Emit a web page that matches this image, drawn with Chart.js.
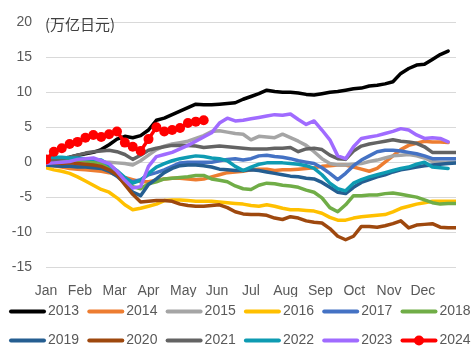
<!DOCTYPE html>
<html><head><meta charset="utf-8">
<script src="https://cdn.jsdelivr.net/npm/chart.js@4/dist/chart.umd.min.js"></script>
<style>html,body{margin:0;padding:0;background:#fff}#wrap{width:474px;height:356px}</style>
</head><body><div id="wrap"><canvas id="c" width="474" height="356"></canvas></div>
<script>
// ---- data (weekly cumulative values, index = week of year) ----
const unitLabel = '(万亿日元)';
const monthLabels = ['Jan','Feb','Mar','Apr','May','Jun','Jul','Aug','Sep','Oct','Nov','Dec'];
const monthTicks = [0, 4.3, 8.7, 13, 17.4, 21.7, 26, 30.4, 34.8, 39.1, 43.5, 47.8];
const yTickValues = [-15, -10, -5, 0, 5, 10, 15, 20];
const seriesNames = ['2013','2014','2015','2016','2017','2018','2019','2020','2021','2022','2023','2024'];

const s2013 = [0,0.2,0.5,0.7,1.0,1.2,1.4,1.8,2.5,3.3, 3.7,3.5,3.8,4.6,6.0,6.3,6.8,7.3,7.8,8.3, 8.2,8.2,8.3,8.4,8.5,9.0,9.4,9.8,10.3,10.1, 10.0,10.0,9.9,9.7,9.6,9.8,10.0,10.1,10.3,10.5, 10.6,10.9,11.0,11.2,11.5,12.7,13.4,13.9,14.0,14.7, 15.4,15.9];
const s2014 = [-0.4,-0.5,-0.7,-0.9,-1.0,-1.1,-1.2,-1.3,-1.5,-1.8, -2.2,-2.5,-2.8,-2.8,-2.6,-2.4,-2.3,-2.3,-2.4,-2.5, -2.4,-2.1,-1.8,-1.5,-1.4,-1.3,-1.1,-1.0,-1.0,-1.2, -1.1,-1.1,-1.0,-0.9,-0.8,-0.6,-0.5,-0.4,-0.4,-0.7, -1.0,-1.3,-0.9,0.0,0.9,1.8,2.4,2.7,3.0,2.9, 2.9,2.8];
const s2015 = [0,0.2,0.3,0.2,0,-0.2,-0.2,0,0,-0.1, -0.2,-0.4,0.2,1.0,1.8,2.3,2.6,2.8,3.0,3.4, 3.8,4.4,4.5,4.3,4.1,4.0,3.2,3.7,3.6,3.5, 4.0,3.5,3.0,2.4,1.5,0.5,-0.2,-0.4,-0.4,-0.3, -0.2,0.1,0.3,0.6,0.9,1.0,1.1,0.9,0.6,0.1, 0,0,0];
const s2016 = [-0.8,-1.1,-1.3,-1.6,-2.1,-2.7,-3.3,-3.9,-4.3,-5.1, -6.1,-6.8,-6.6,-6.3,-6.0,-5.5,-5.4,-5.4,-5.5,-5.6, -5.6,-5.6,-5.7,-5.8,-5.9,-6.0,-6.2,-6.3,-6.1,-6.3, -6.6,-6.8,-6.8,-6.9,-7.0,-7.3,-7.9,-8.3,-8.3,-8.0, -7.8,-7.7,-7.6,-7.5,-7.1,-6.6,-6.3,-6.0,-5.8,-5.6, -5.6,-5.6,-5.6];
const s2017 = [-0.2,-0.3,-0.4,-0.5,-0.6,-0.6,-0.6,-0.7,-0.9,-1.5, -2.3,-2.8,-2.5,-1.8,-1.5,-1.1,-0.6,-0.1,0,0, 0,0,0.2,0.4,0.5,0.3,0.5,0.9,1.0,0.8, 0.7,0.5,0.2,0,-0.2,-0.8,-1.6,-2.5,-1.6,-0.5, 0.3,0.9,1.5,1.7,1.7,1.6,1.4,1.2,0.9,0.5, 0.5,0.5,0.5];
const s2018 = [0.5,0.6,0.5,0.4,0.3,0.2,0,-0.2,-0.6,-1.3, -2.3,-3.5,-3.8,-3.1,-2.8,-2.4,-2.3,-2.2,-2.1,-1.9, -1.9,-2.4,-2.6,-2.8,-3.4,-3.8,-3.9,-3.3,-3.0,-3.1, -3.3,-3.4,-3.6,-4.0,-4.3,-5.1,-6.5,-7.1,-6.1,-4.8, -4.8,-4.7,-4.7,-4.5,-4.4,-4.6,-4.8,-5.0,-5.4,-5.8, -6.0,-5.9,-5.9];
const s2019 = [-0.4,-0.5,-0.6,-0.6,-0.7,-0.7,-0.8,-0.9,-1.3,-2.0, -3.0,-4.3,-4.8,-3.2,-2.4,-1.5,-0.9,-0.5,-0.4,-0.4, -0.5,-0.7,-1.0,-1.1,-1.2,-1.2,-1.1,-1.2,-1.4,-1.6, -1.8,-2.0,-2.1,-2.3,-2.4,-2.9,-3.6,-4.3,-4.5,-3.6, -2.9,-2.5,-2.1,-1.8,-1.4,-1.1,-0.9,-0.7,-0.5,-0.4, -0.3,-0.2,-0.1];
const s2020 = [0,-0.1,-0.2,-0.1,-0.2,-0.3,-0.4,-0.6,-1.1,-1.8, -3.2,-4.6,-5.7,-5.6,-5.5,-5.5,-5.6,-6.0,-6.2,-6.3, -6.3,-6.2,-6.1,-6.5,-7.1,-7.4,-7.5,-7.5,-7.6,-8.0, -8.2,-7.8,-8.0,-8.4,-8.6,-8.7,-9.5,-10.6,-11.1,-10.6, -9.2,-9.2,-9.3,-9.1,-8.8,-8.4,-9.4,-9.0,-8.9,-8.8, -9.3,-9.4,-9.4];
const s2021 = [0.1,0.3,0.5,0.7,1.0,1.3,1.5,1.6,1.7,1.5, 1.1,0.4,1.0,1.7,2.0,2.2,2.4,2.4,2.4,2.3, 2.1,2.2,2.3,2.2,2.1,2.0,1.9,1.9,1.9,2.0, 2.0,2.1,1.5,1.9,2.0,1.8,1.0,0.5,0.4,1.6, 2.3,2.6,2.8,3.0,3.2,3.0,2.9,2.7,2.2,1.4, 1.4,1.4,1.4];
const s2022 = [0.7,0.7,0.7,0.6,0.6,0.5,0.4,0.3,-0.4,-1.2, -2.2,-3.0,-2.6,-1.6,-0.7,-0.2,0.2,0.5,0.7,0.9, 0.8,0.6,0.5,0.2,-0.6,-1.2,-0.7,-0.3,-0.1,-0.1, -0.1,-0.2,-0.3,-0.5,-0.9,-1.8,-3.0,-3.8,-4.1,-3.0, -2.5,-2.1,-1.8,-1.5,-1.2,-0.9,-0.7,-0.3,0,-0.7, -0.8,-0.9];
const s2023 = [-0.2,-0.1,0,0.1,0.4,0.5,0.6,0.2,-0.2,-1.3, -2.6,-3.7,-3.5,-0.6,0.8,1.1,1.4,1.9,2.4,3.0, 3.6,4.2,5.6,6.3,5.9,6.0,6.2,6.4,6.6,6.8, 6.7,6.9,6.1,5.4,5.9,4.6,3.2,0.9,0.5,2.2, 3.4,3.6,3.8,4.1,4.4,4.8,4.6,3.9,3.4,3.5, 3.4,2.9];
const s2024 = [0.4,1.5,2.0,2.6,2.9,3.5,3.9,3.6,4.0,4.4, 2.8,2.2,1.6,3.3,5.0,4.4,4.6,4.9,5.6,5.8, 6.0];

const seriesValues = [s2013,s2014,s2015,s2016,s2017,s2018,s2019,s2020,s2021,s2022,s2023,s2024];
const seriesColors = ['#000000','#ED7D31','#A5A5A5','#FFC000','#4472C4','#70AD47','#255E91','#9E480E','#636363','#0E9BB2','#A06BFF','#FF0000'];

Chart.defaults.font.family = '"Liberation Sans", Arial, sans-serif';

const datasets = seriesValues.map((vals, i) => {
  const hasMarkers = seriesNames[i] === '2024';
  return {
    label: seriesNames[i],
    data: vals.map((v, w) => ({x: w, y: v})),
    borderColor: seriesColors[i],
    backgroundColor: seriesColors[i],
    borderWidth: 3.5,
    tension: 0,
    borderJoinStyle: 'round',
    borderCapStyle: 'round',
    pointRadius: hasMarkers ? 5 : 0,
    pointHoverRadius: hasMarkers ? 5 : 0,
    pointBorderWidth: 0,
    pointBackgroundColor: seriesColors[i],
    order: 100 - i
  };
});

const overlay = {
  id: 'overlay',
  afterDraw(chart) {
    const ctx = chart.ctx;
    ctx.save();
    ctx.textBaseline = 'middle';
    ctx.textAlign = 'left';
    ctx.fillStyle = '#404040';
    ctx.font = '15px "Noto Sans CJK SC"';
    ctx.fillText(unitLabel, 45, 24);
    chart.data.datasets.forEach((ds, i) => {
      const col = i % 6, row = Math.floor(i / 6);
      const x0 = 10 + col * 78.3;
      const y = row ? 340.5 : 311.5;
      ctx.strokeStyle = ds.borderColor;
      ctx.lineWidth = 4;
      ctx.lineCap = 'round';
      ctx.beginPath();
      ctx.moveTo(x0 + 1, y);
      ctx.lineTo(x0 + 34, y);
      ctx.stroke();
      if (ds.pointRadius > 0) {
        ctx.fillStyle = ds.borderColor;
        ctx.beginPath();
        ctx.arc(x0 + 17.5, y, 5, 0, Math.PI * 2);
        ctx.fill();
      }
      ctx.fillStyle = '#595959';
      ctx.font = '14px "Liberation Sans"';
      ctx.fillText(ds.label, x0 + 38, y);
    });
    ctx.restore();
  }
};

new Chart(document.getElementById('c'), {
  type: 'line',
  data: { datasets },
  plugins: [overlay],
  options: {
    responsive: false,
    devicePixelRatio: 1,
    animation: false,
    layout: { padding: { left: 0, right: 18, top: 16, bottom: 59 } },
    plugins: { legend: { display: false }, tooltip: { enabled: false } },
    scales: {
      x: {
        type: 'linear',
        min: 0,
        max: 52,
        grid: { display: false },
        border: { display: false },
        afterBuildTicks: (s) => { s.ticks = monthTicks.map(v => ({ value: v })); },
        afterFit: (s) => { s.height = 30; },
        ticks: {
          autoSkip: false,
          maxRotation: 0,
          padding: 8,
          color: '#595959',
          font: { size: 14 },
          callback: (v, i) => monthLabels[i]
        }
      },
      y: {
        min: -15,
        max: 20,
        afterBuildTicks: (s) => { s.ticks = yTickValues.map(v => ({ value: v })); },
        afterFit: (s) => { s.width = 46; },
        grid: { color: '#D9D9D9', lineWidth: 1, drawTicks: false },
        border: { display: false },
        ticks: { padding: 14, color: '#595959', font: { size: 14 } }
      }
    }
  }
});
</script></body></html>
